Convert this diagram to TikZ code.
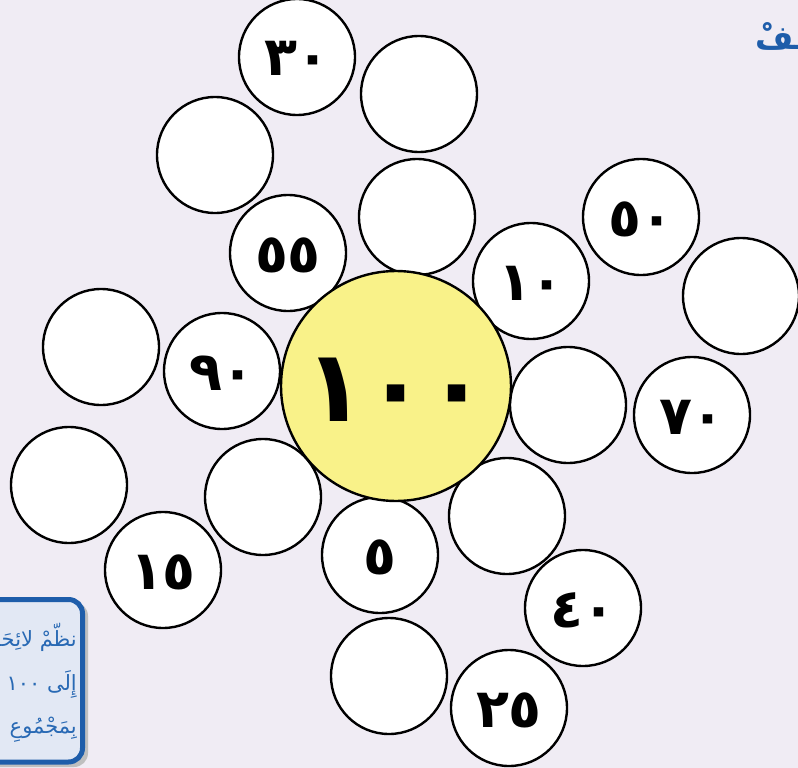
\documentclass[tikz,border=0pt]{standalone}
\usepackage{fontspec}
\TeXXeTstate=1
\newfontfamily\arabicfont[Script=Arabic]{DejaVu Sans}
\definecolor{bgc}{RGB}{240,236,244}
\definecolor{yel}{RGB}{249,242,137}
\definecolor{boxblue}{RGB}{30,93,170}
\definecolor{boxfill}{RGB}{226,232,244}
\definecolor{txtblue}{RGB}{40,105,180}
\begin{document}
\begin{tikzpicture}[x=1pt,y=-1pt,
  disc/.style={circle,draw=black,line width=2.4pt,fill=white,minimum size=116pt,inner sep=0pt,
    text height=38pt,text depth=0pt,font=\arabicfont\bfseries\fontsize{54}{54}\selectfont},
  bigdisc/.style={disc,fill=yel,minimum size=230pt,text height=70pt,text depth=0pt,
    font=\arabicfont\bfseries\fontsize{100}{100}\selectfont},
  boxtxt/.style={text=txtblue,font=\arabicfont\fontsize{21}{24}\selectfont,anchor=base east,inner sep=0pt}]
\useasboundingbox (0,0) rectangle (798,768);
\clip (0,0) rectangle (798,768);
\fill[bgc] (0,0) rectangle (798,768);
% heading fragment
\node[text=boxblue,font=\arabicfont\bfseries\fontsize{33}{33}\selectfont,anchor=base east,inner sep=0pt] (head) at (806,50) {\beginR ـفْ\endR};
% circles
\node[disc] (c1) at (297,57) {٣٠};
\node[disc] (c2) at (419,94) {};
\node[disc] (c3) at (215,155) {};
\node[disc] (c4) at (417,217) {};
\node[disc] (c5) at (288,253) {٥٥};
\node[disc] (c6) at (641,217) {٥٠};
\node[disc] (c7) at (531,281) {١٠};
\node[disc] (c8) at (741,296) {};
\node[disc] (c9) at (101,347) {};
\node[disc] (c10) at (222,371) {٩٠};
\node[disc] (c12) at (568,405) {};
\node[disc] (c13) at (692,415) {٧٠};
\node[disc] (c14) at (69,485) {};
\node[disc] (c15) at (263,497) {};
\node[disc] (c16) at (507,516) {};
\node[disc] (c17) at (380,555) {٥};
\node[disc] (c18) at (163,570) {١٥};
\node[disc] (c19) at (583,608) {٤٠};
\node[disc] (c20) at (389,676) {};
\node[disc] (c21) at (509,708) {٢٥};
\node[bigdisc] (c11) at (396,386) {١٠٠};
% instruction box
\fill[black!25,rounded corners=14pt] (-40,602) rectangle (88,767);
\draw[boxblue,line width=5pt,fill=boxfill,rounded corners=14pt] (-40,599.5) rectangle (82.5,762);
\node[boxtxt] (t1) at (77,646) {\beginR نظّمْ لائِحَةً\endR};
\node[boxtxt] (t2) at (77,690) {\beginR إِلَى ١٠٠\endR};
\node[boxtxt] (t3) at (77,733) {\beginR بِمَجْمُوعِ\endR};
\end{tikzpicture}
\end{document}
